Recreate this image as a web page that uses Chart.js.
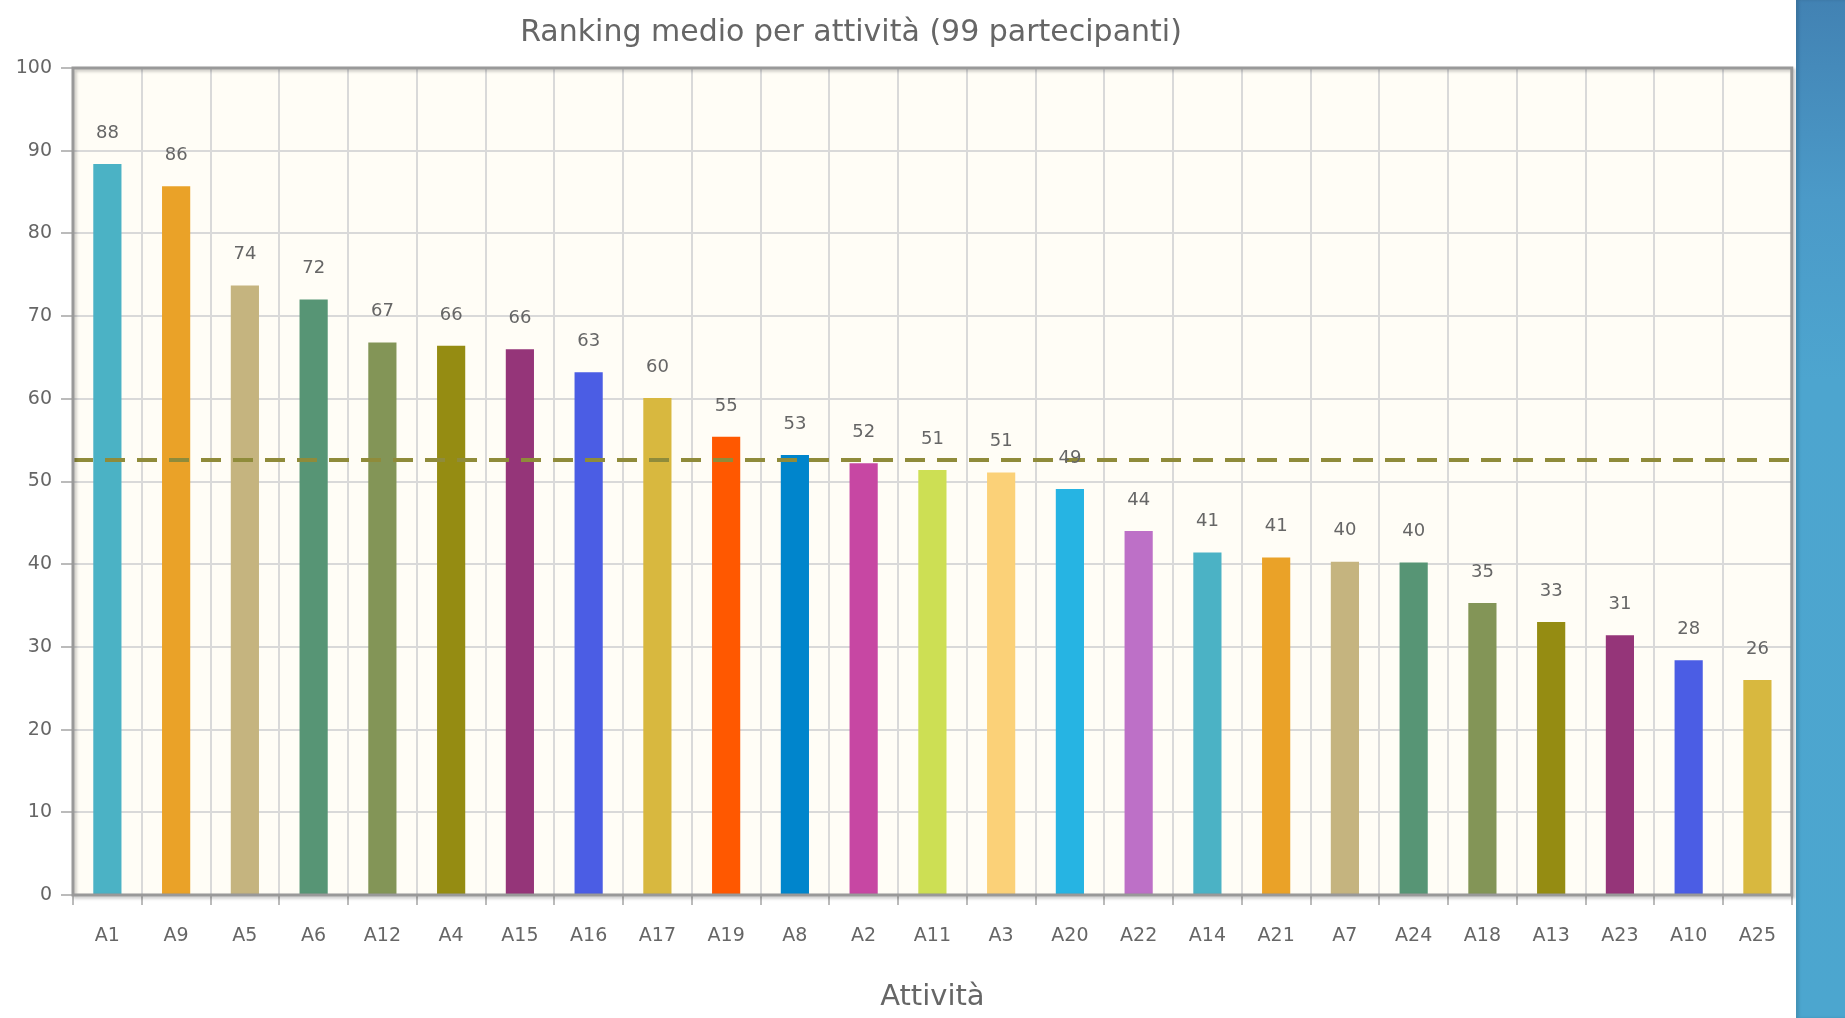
<!DOCTYPE html>
<html>
<head>
<meta charset="utf-8">
<script src="https://cdn.jsdelivr.net/npm/chart.js@4.4.1/dist/chart.umd.min.js"></script>
<style>
  html, body { margin: 0; padding: 0; background: #fff; }
  #wrap { position: absolute; left: 0; top: 0; width: 1796px; height: 1018px; }
  #stripe {
    position: absolute; left: 1796px; top: 0; width: 49px; height: 1018px;
    background: linear-gradient(to bottom, #4282b3 0px, #4b9ac8 200px, #4da5cf 380px, #4ca6cf 1018px);
    box-shadow: inset 3px 0 3px rgba(0, 0, 0, 0.12);
  }
</style>
</head>
<body>
<div id="wrap"><canvas id="chart"></canvas></div>
<div id="stripe"></div>
<script>
const activities = ['A1', 'A9', 'A5', 'A6', 'A12', 'A4', 'A15', 'A16', 'A17', 'A19', 'A8', 'A2', 'A11',
    'A3', 'A20', 'A22', 'A14', 'A21', 'A7', 'A24', 'A18', 'A13', 'A23', 'A10', 'A25'];
const rankings = [88.4, 85.7, 73.7, 72.0, 66.8, 66.4, 66.0, 63.2, 60.1, 55.4, 53.2, 52.2, 51.4,
    51.1, 49.1, 44.0, 41.4, 40.8, 40.3, 40.2, 35.3, 33.0, 31.4, 28.4, 26.0];
const averageRanking = 52.6;
const yTicks = [0, 10, 20, 30, 40, 50, 60, 70, 80, 90, 100];
const chartTitle = 'Ranking medio per attività (99 partecipanti)';

// jqPlot default series colours, cycled
const palette = ['#4bb2c5', '#eaa228', '#c5b47f', '#579575', '#839557', '#958c12', '#953579', '#4b5de4',
    '#d8b83f', '#ff5800', '#0085cc', '#c747a3', '#cddf54', '#fbd178', '#26b4e3', '#bd70c7'];

const FONT = '"DejaVu Sans", sans-serif';
const TEXT = '#666666';

const plotDecor = {
    id: 'plotDecor',
    beforeDraw(chart) {
        const { ctx, chartArea: a } = chart;
        ctx.save();
        ctx.fillStyle = '#fffdf6';
        ctx.fillRect(a.left, a.top, a.right - a.left, a.bottom - a.top);
        ctx.restore();
    },
    afterDatasetsDraw(chart) {
        const { ctx, chartArea: a, scales } = chart;

        // average line
        const yAvg = scales.y.getPixelForValue(averageRanking);
        ctx.save();
        ctx.strokeStyle = '#8f8b3a';
        ctx.lineWidth = 4;
        ctx.setLineDash([20, 12]);
        ctx.beginPath();
        ctx.moveTo(a.left, yAvg);
        ctx.lineTo(a.right, yAvg);
        ctx.stroke();
        ctx.restore();

        // value labels
        const meta = chart.getDatasetMeta(0);
        ctx.save();
        ctx.font = '18px ' + FONT;
        ctx.fillStyle = TEXT;
        ctx.textAlign = 'center';
        ctx.textBaseline = 'middle';
        meta.data.forEach((bar, i) => {
            ctx.fillText(String(Math.round(rankings[i])), bar.x, bar.y - 31);
        });
        ctx.restore();

        // plot border with shadow
        ctx.save();
        ctx.shadowColor = 'rgba(0,0,0,0.22)';
        ctx.shadowOffsetX = 2;
        ctx.shadowOffsetY = 2;
        ctx.shadowBlur = 3;
        ctx.strokeStyle = '#999999';
        ctx.lineWidth = 3;
        ctx.strokeRect(a.left, a.top, a.right - a.left, a.bottom - a.top);
        ctx.restore();
    },
    afterDraw(chart) {
        // title sits left of the plot centre in the original
        const { ctx } = chart;
        ctx.save();
        ctx.font = '30px ' + FONT;
        ctx.fillStyle = TEXT;
        ctx.textAlign = 'center';
        ctx.textBaseline = 'middle';
        ctx.fillText(chartTitle, 851, 33);
        ctx.restore();
    }
};

new Chart(document.getElementById('chart'), {
    type: 'bar',
    data: {
        labels: activities,
        datasets: [{
            data: rankings,
            backgroundColor: activities.map((_, i) => palette[i % palette.length]),
            borderWidth: 0,
            barPercentage: 0.41,
            categoryPercentage: 1.0
        }]
    },
    options: {
        responsive: true,
        maintainAspectRatio: false,
        animation: false,
        layout: { padding: { top: 68, right: 0, bottom: 0, left: 0 } },
        plugins: {
            legend: { display: false },
            tooltip: { enabled: false },
            title: { display: false }
        },
        scales: {
            x: {
                grid: { color: '#d9d9d9', lineWidth: 2, tickLength: 10, tickColor: '#bbbbbb', offset: true },
                border: { display: false },
                ticks: { color: TEXT, font: { family: FONT, size: 19 }, padding: 20, maxRotation: 0 },
                title: {
                    display: true, text: 'Attività', color: TEXT,
                    font: { family: FONT, size: 29 }, padding: { top: 0, bottom: 3 }
                },
                afterFit(scale) { scale.height = 123; }
            },
            y: {
                min: 0,
                max: 100,
                afterBuildTicks(scale) { scale.ticks = yTicks.map(v => ({ value: v })); },
                grid: { color: '#d9d9d9', lineWidth: 2, tickLength: 12, tickColor: '#bbbbbb' },
                border: { display: false },
                ticks: { color: TEXT, font: { family: FONT, size: 19 }, padding: 9 },
                afterFit(scale) { scale.width = 73; }
            }
        }
    },
    plugins: [plotDecor]
});
</script>
</body>
</html>
